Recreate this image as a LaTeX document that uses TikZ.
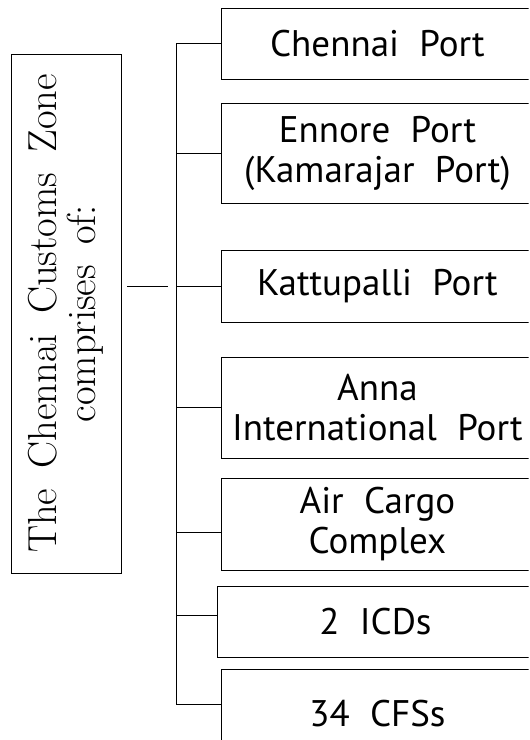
\documentclass[tikz,border=0pt]{standalone}
\usepackage{fontspec}
\newfontfamily\portfont{PT Sans}
\usepackage{tikz}
\usetikzlibrary{positioning}
\newcommand{\portsize}{\portfont\fontsize{37}{40}\selectfont\spaceskip=0.55em plus 0.1em\relax}
\newcommand{\zonesize}{\fontsize{40.5}{39}\selectfont\spaceskip=0.5em plus 0.1em\relax}

\begin{document}
\begin{tikzpicture}[x=1pt, y=-1pt, line width=0.9pt,
    portbox/.style={draw, anchor=west, minimum width=312pt, inner sep=0pt, align=center,
      font=\portsize},
    zonebox/.style={draw, rotate=90, inner sep=0pt, align=center,
      font=\zonesize}]
  \useasboundingbox (0,0) rectangle (530,740);
  \clip (0,0) rectangle (528.5,740);

  \node (zone) [zonebox, minimum width=519pt, minimum height=110pt] at (66,313.5)
    {The Chennai Customs Zone\\comprises of:};

  \node (chennai) [portbox, minimum height=71pt] at (221,43.5) {Chennai Port};
  \node (ennore) [portbox, minimum height=100pt] at (221,153) {Ennore Port\\(Kamarajar Port)};
  \node (katt) [portbox, minimum height=72pt] at (221,286) {Kattupalli Port};
  \node (anna) [portbox, minimum height=101pt] at (221,407.5) {Anna\\International Port};
  \node (air) [portbox, minimum height=92pt] at (221,524) {Air Cargo\\Complex};
  \node (icd) [portbox, minimum height=71pt, minimum width=316pt] at (217,621.5) {2 ICDs};
  \node (cfs) [portbox, minimum height=90pt] at (221,714) {34 CFSs};

  \coordinate (lft) at (127,286);
  \coordinate (hub) at (168,286);
  \coordinate (top) at (176,43);
  \coordinate (bot) at (176,704);
  \draw (lft) -- (hub);
  \draw (top) -- (bot);
  \foreach \n/\y in {chennai/43, ennore/153, katt/286, anna/407, air/532, icd/615, cfs/704}
    \draw (176,\y) -- (\n.west |- 176,\y);
\end{tikzpicture}
\end{document}
